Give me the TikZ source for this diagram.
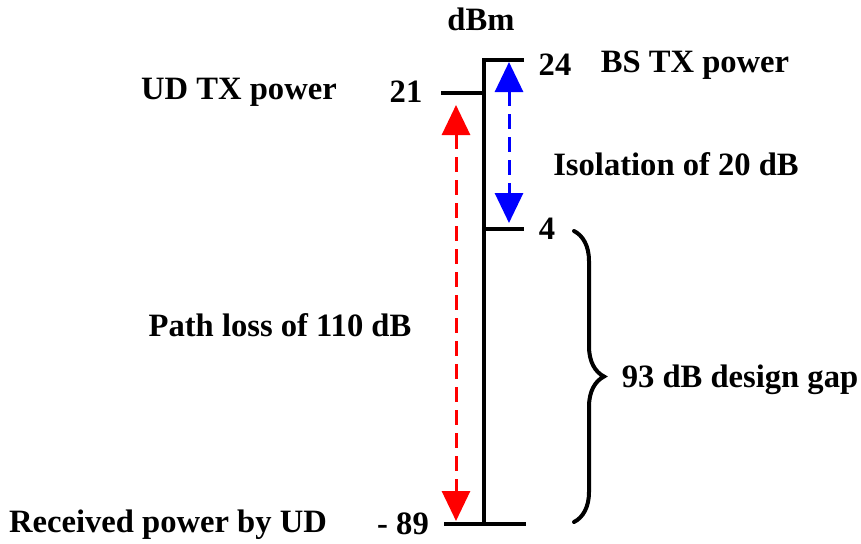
\documentclass[tikz,border=0pt]{standalone}
\usepackage{fontspec}
\setmainfont{Liberation Serif}
\usepackage{tikz}
\usetikzlibrary{arrows.meta, positioning, calc, decorations.pathreplacing}
\definecolor{LV_RED}{HTML}{ff0000}
\definecolor{LV_BLUE}{HTML}{0000ff}
\tikzset{
  lbl/.style={
    inner sep=0pt, text centered, align=center,
    font=\fontsize{16.3}{18}\selectfont\bfseries},
  axisline/.style={line width=2pt, black},
  gaparr/.style={
    {Triangle[length=15pt,width=14pt]}-{Triangle[length=15pt,width=14pt]},
    line width=1.5pt, dash pattern=on 7.5pt off 4pt},
  gapbrace/.style={
    decorate, decoration={brace, amplitude=15pt},
    line width=2pt, line cap=round},
}
\begin{document}
\begin{tikzpicture}[x=0.5pt, y=-0.5pt]
  \useasboundingbox (0,0) rectangle (861,543);

  % level marks on the dBm axis
  \coordinate (top)    at (484,60);
  \coordinate (bot)    at (484,524);
  \coordinate (bstx)   at (524,60);
  \coordinate (udtx0)  at (441,93);
  \coordinate (udtx1)  at (484,93);
  \coordinate (iso0)   at (484,229);
  \coordinate (iso1)   at (524,229);
  \coordinate (rx0)    at (444,524);
  \coordinate (rx1)    at (526,524);

  \draw[axisline, line join=miter] (bstx) -- (top) -- (bot);
  \draw[axisline] (udtx0) -- (udtx1);
  \draw[axisline] (iso0)  -- (iso1);
  \draw[axisline] (rx0)   -- (rx1);

  \node[lbl] (unit)  at (481,19)  {dBm};
  \node[lbl] (v24)   at (555,65)  {24};
  \node[lbl] (bs)    at (695,65)  {BS TX power};
  \node[lbl] (v21)   at (406,92)  {21};
  \node[lbl] (ud)    at (239,92)  {UD TX power};
  \node[lbl] (v4)    at (547,229) {4};
  \node[lbl] (vm89)  at (403,524) {- 89};
  \node[lbl] (rx)    at (168,525) {Received power by UD};
  \node[lbl] (iso)   at (676,164) {Isolation of 20 dB};
  \node[lbl] (pl)    at (280,325) {Path loss of 110 dB};
  \node[lbl] (gap)   at (740,380) {93 dB design gap};

  % isolation and path loss
  \coordinate (isoA) at (509,62);
  \coordinate (isoB) at (509,223);
  \coordinate (plA)  at (456,105);
  \coordinate (plB)  at (456,521);
  \draw[gaparr, LV_BLUE] (isoA) -- (isoB);
  \draw[gaparr, LV_RED]  (plA)  -- (plB);

  % design gap
  \coordinate (brA) at (574,231);
  \coordinate (brB) at (574,522);
  \draw[gapbrace] (brA) -- (brB);

\end{tikzpicture}
\end{document}
